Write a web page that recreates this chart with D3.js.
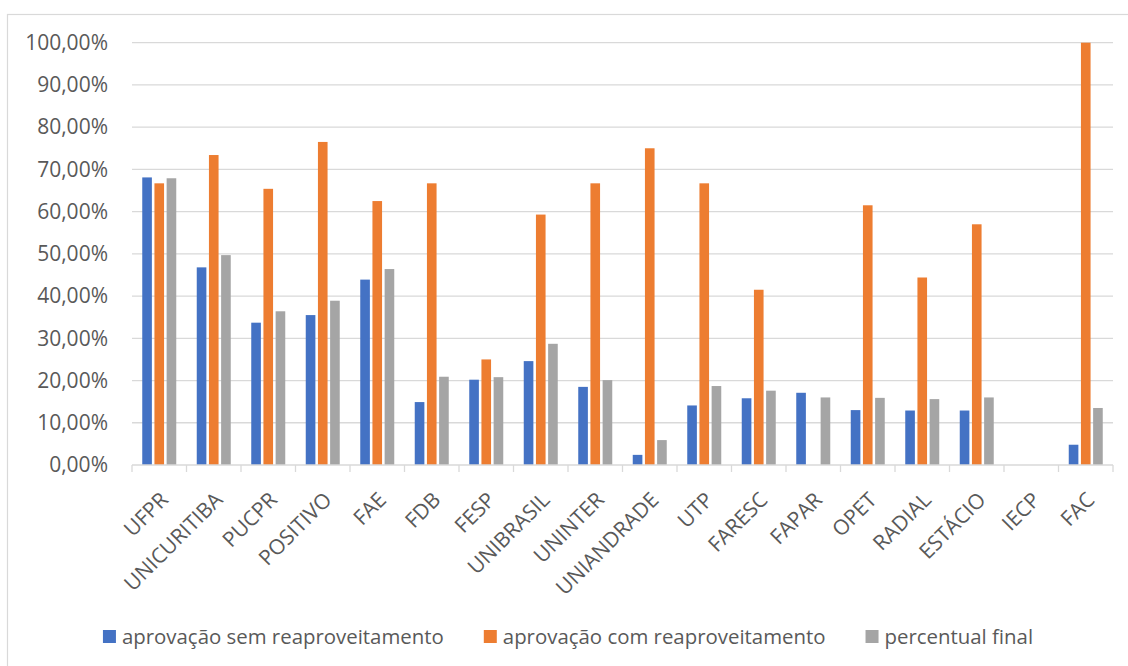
<!DOCTYPE html>
<html>
<head>
<meta charset="utf-8">
<script src="https://cdn.jsdelivr.net/npm/d3@7"></script>
<style>
  html, body { margin: 0; padding: 0; background: #fff; }
  svg { display: block; font-family: "Open Sans", "Noto Sans", sans-serif; }
</style>
</head>
<body>
<svg id="chart" width="1128" height="666"></svg>
<script>
const categories = ["UFPR","UNICURITIBA","PUCPR","POSITIVO","FAE","FDB","FESP","UNIBRASIL","UNINTER","UNIANDRADE","UTP","FARESC","FAPAR","OPET","RADIAL","ESTÁCIO","IECP","FAC"];
const seriesNames = ["aprovação sem reaproveitamento","aprovação com reaproveitamento","percentual final"];
const semReaproveitamento = [0.681,0.468,0.337,0.355,0.439,0.149,0.202,0.246,0.185,0.024,0.141,0.158,0.171,0.130,0.129,0.129,0,0.048];
const comReaproveitamento = [0.667,0.734,0.654,0.765,0.625,0.667,0.250,0.593,0.667,0.750,0.667,0.415,0,0.615,0.444,0.570,0,1.000];
const percentualFinal     = [0.679,0.497,0.364,0.389,0.464,0.209,0.208,0.287,0.201,0.059,0.187,0.176,0.160,0.159,0.156,0.160,0,0.135];
const yTicks = [0,0.1,0.2,0.3,0.4,0.5,0.6,0.7,0.8,0.9,1.0];
const colors = ["#4472C4","#ED7D31","#A5A5A5"];

const seriesValues = [semReaproveitamento, comReaproveitamento, percentualFinal];
const svg = d3.select("#chart");
const textColor = "#595959";
const gridColor = "#D9D9D9";

// chart border
svg.append("rect").attr("x",7.5).attr("y",14.5).attr("width",1200).attr("height",700)
  .attr("fill","none").attr("stroke",gridColor).attr("stroke-width",1.2);

const plot = {left:132, right:1113, top:42.7, bottom:465};

const x0 = d3.scaleBand().domain(categories).range([plot.left, plot.right]).padding(0);
const groupW = 34;
const x1 = d3.scaleBand().domain(d3.range(seriesNames.length))
  .range([(x0.bandwidth()-groupW)/2, (x0.bandwidth()+groupW)/2]).paddingInner(0.21).paddingOuter(0);
const y = d3.scaleLinear().domain([0,1]).range([plot.bottom, plot.top]);

// gridlines
svg.append("g").selectAll("line").data(yTicks.filter(d=>d>0)).join("line")
  .attr("x1",plot.left).attr("x2",plot.right)
  .attr("y1",d=>y(d)).attr("y2",d=>y(d))
  .attr("stroke",gridColor).attr("stroke-width",1.3);

// y axis labels
const fmt = d => d3.format(".2f")(d*100).replace(".", ",") + "%";
const yAxis = d3.axisLeft(y).tickValues(yTicks).tickFormat(fmt).tickSize(0).tickPadding(24);
const gy = svg.append("g").attr("transform",`translate(${plot.left},0)`).call(yAxis);
gy.select(".domain").remove();
gy.selectAll("text").attr("fill",textColor).attr("font-size","21px")
  .attr("font-family",'"Open Sans", "Noto Sans", sans-serif');

// bars
const groups = svg.append("g").selectAll("g").data(categories).join("g")
  .attr("transform",d=>`translate(${x0(d)},0)`);
groups.selectAll("rect").data((c,ci)=>seriesValues.map((s,si)=>({si, v:s[ci]})))
  .join("rect")
  .filter(d=>d.v>0)
  .attr("x",d=>x1(d.si)).attr("width",x1.bandwidth())
  .attr("y",d=>y(d.v)).attr("height",d=>y(0)-y(d.v))
  .attr("fill",d=>colors[d.si]);

// x axis
const xAxis = d3.axisBottom(x0).tickSize(0).tickFormat("");
const gx = svg.append("g").attr("transform",`translate(0,${plot.bottom})`).call(xAxis);
gx.select(".domain").attr("stroke",gridColor).attr("stroke-width",1.3).attr("d",`M${plot.left},0H${plot.right}`);
gx.selectAll(".tick").remove();
const boundaries = categories.map(c=>x0(c)).concat([plot.right]);
gx.selectAll("line.sep").data(boundaries).join("line").attr("class","sep")
  .attr("x1",d=>d).attr("x2",d=>d).attr("y1",0).attr("y2",7)
  .attr("stroke",gridColor).attr("stroke-width",1.3);

// category labels
svg.append("g").selectAll("text").data(categories).join("text")
  .attr("transform",d=>`translate(${x0(d)+x0.bandwidth()/2+5},496) rotate(-45)`)
  .attr("text-anchor","end").attr("dy","0.35em")
  .attr("fill",textColor).attr("font-size","21px")
  .text(d=>d);

// legend
const legend = svg.append("g");
const items = legend.selectAll("g").data(seriesNames).join("g");
items.append("rect").attr("width",13).attr("height",13).attr("y",-7).attr("fill",(d,i)=>colors[i]);
items.append("text").attr("x",19).attr("y",0).attr("dy","0.35em").attr("font-size","20.4px").attr("fill",textColor).text(d=>d);
const gap = 40;
const widths = [];
items.each(function(){ widths.push(this.getBBox().width); });
const total = d3.sum(widths) + gap*(widths.length-1);
let cur = 568 - total/2;
items.attr("transform",(d,i)=>{ const t = `translate(${cur},637)`; cur += widths[i]+gap; return t; });
</script>
</body>
</html>
